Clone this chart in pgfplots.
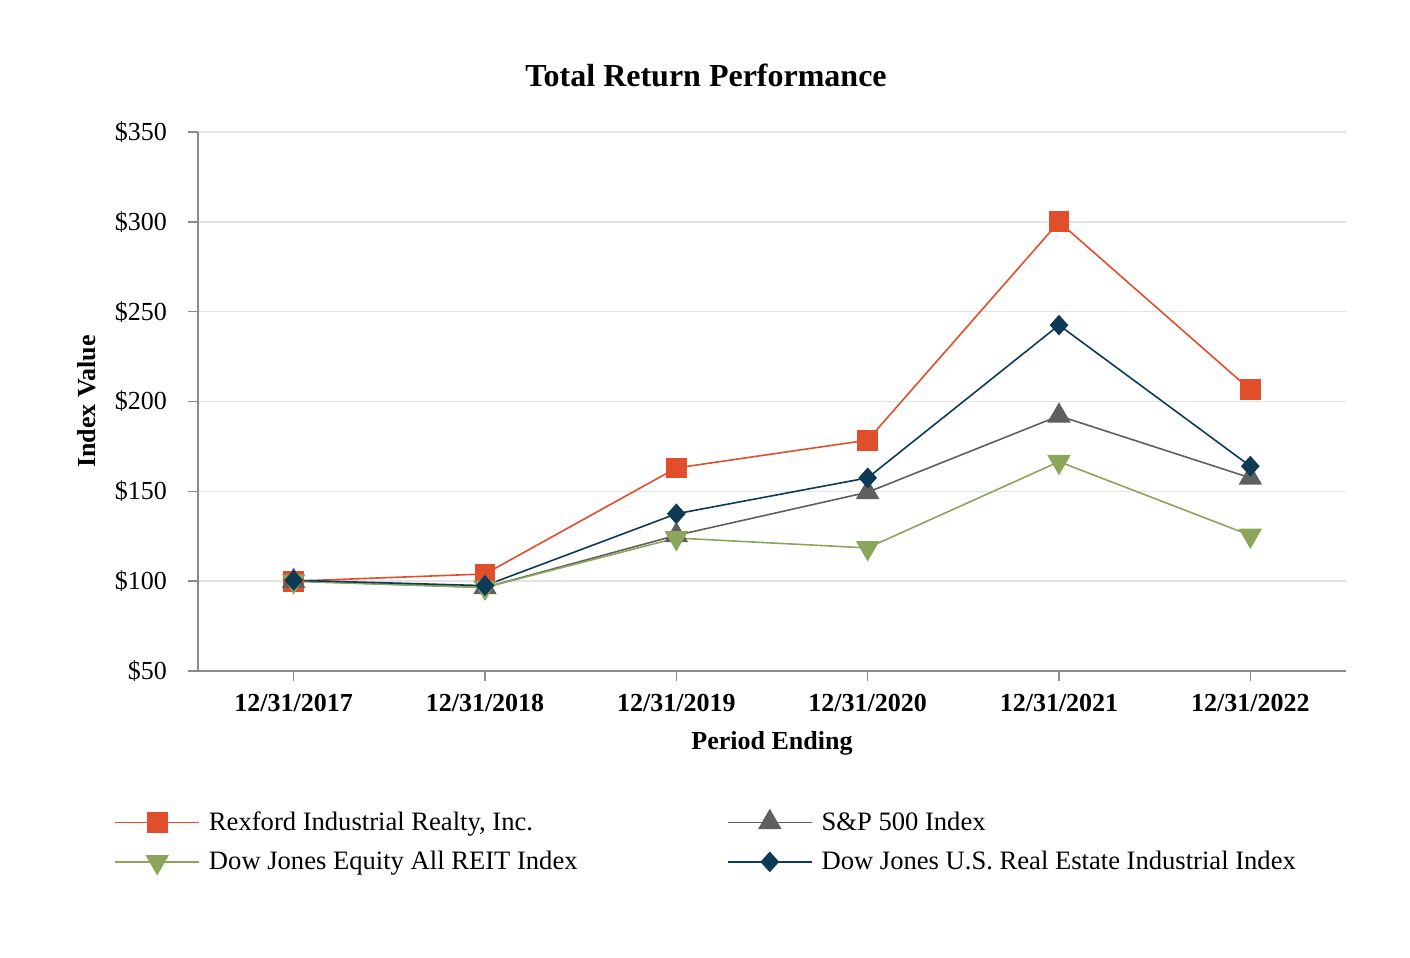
\documentclass[border=0pt]{standalone}
\usepackage{pgfplots}
\pgfplotsset{compat=1.18}
\usepackage{fontspec}
\setmainfont{Liberation Serif}
\definecolor{cRex}{HTML}{E04E2B}
\definecolor{cSP}{HTML}{5F5F5F}
\definecolor{cReit}{HTML}{8BA65B}
\definecolor{cInd}{HTML}{0D3A55}
\definecolor{cGrid}{HTML}{E3E3E3}
\definecolor{cAx}{HTML}{8C8C8C}
\begin{document}
\begin{tikzpicture}
\path[use as bounding box] (0,0) rectangle (705pt,479pt);
\begin{axis}[
  at={(99pt,143.5pt)}, anchor=south west,
  scale only axis, width=574pt, height=269.5pt,
  xmin=-0.5, xmax=5.5, ymin=50, ymax=350,
  xtick={0,1,2,3,4,5},
  xticklabels={12/31/2017,12/31/2018,12/31/2019,12/31/2020,12/31/2021,12/31/2022},
  ytick={50,100,150,200,250,300,350},
  yticklabel={\$\pgfmathprintnumber{\tick}},
  /pgf/number format/assume math mode=true,
  tick label style={font=\fontsize{13}{15}\selectfont},
  yticklabel style={xshift=-7pt},
  xticklabel style={font=\fontsize{13}{15}\selectfont\bfseries, yshift=-3pt},
  axis x line*=bottom, axis y line*=left,
  axis line style={cAx, line width=0.8pt},
  tick style={cAx, line width=0.8pt},
  tick align=outside, major tick length=5pt,
  ymajorgrids, grid style={cGrid, line width=0.8pt},
  title={Total Return Performance},
  title style={font=\fontsize{16}{18}\selectfont\bfseries, at={(rel axis cs:0.4425,1.082)}, anchor=center},
  xlabel={Period Ending},
  xlabel style={font=\fontsize{13}{15}\selectfont\bfseries, at={(rel axis cs:0.5,-0.134)}, anchor=center},
  ylabel={Index Value},
  ylabel style={font=\fontsize{13}{15}\selectfont\bfseries, at={(rel axis cs:-0.0967,0.5)}, anchor=center, rotate=0},
  legend columns=2,
  legend cell align=left,
  legend style={draw=none, fill=none, at={(rel axis cs:-0.0784,-0.245)}, anchor=north west,
    font=\fontsize{13.3}{15}\selectfont, row sep=5pt,
    /tikz/column 1/.style={column sep=2.5pt},
    /tikz/column 3/.style={column sep=2.5pt}},
  legend image code/.code={
    \draw[mark repeat=2,mark phase=2] plot coordinates {(0pt,0pt) (21pt,0pt) (42pt,0pt)};},
]
\addplot[cRex, line width=0.8pt, mark=square*, mark size=4.8pt, mark options={solid, fill=cRex, draw=cRex}]
  coordinates {(0,100) (1,104) (2,163) (3,178.5) (4,300) (5,206.5)};
\addlegendentry{\makebox[257pt][l]{Rexford Industrial Realty, Inc.}}
\addplot[cSP, line width=0.8pt, mark=triangle*, mark size=6pt, mark options={solid, fill=cSP, draw=cSP}]
  coordinates {(0,100) (1,96.5) (2,125.5) (3,149.5) (4,192) (5,157.5)};
\addlegendentry{S\&P 500 Index}
\addplot[cReit, line width=0.8pt, mark=triangle*, mark size=6pt, mark options={solid, fill=cReit, draw=cReit, rotate=180}]
  coordinates {(0,100) (1,96.5) (2,124) (3,118.5) (4,166.5) (5,125.5)};
\addlegendentry{\makebox[257pt][l]{Dow Jones Equity All REIT Index}}
\addplot[cInd, line width=0.8pt, mark=diamond*, mark size=4.6pt, mark options={solid, fill=cInd, draw=cInd, xscale=1.2}]
  coordinates {(0,100.5) (1,97.5) (2,137.5) (3,157.5) (4,242.5) (5,164)};
\addlegendentry{Dow Jones U.S. Real Estate Industrial Index}
\end{axis}
\end{tikzpicture}
\end{document}
